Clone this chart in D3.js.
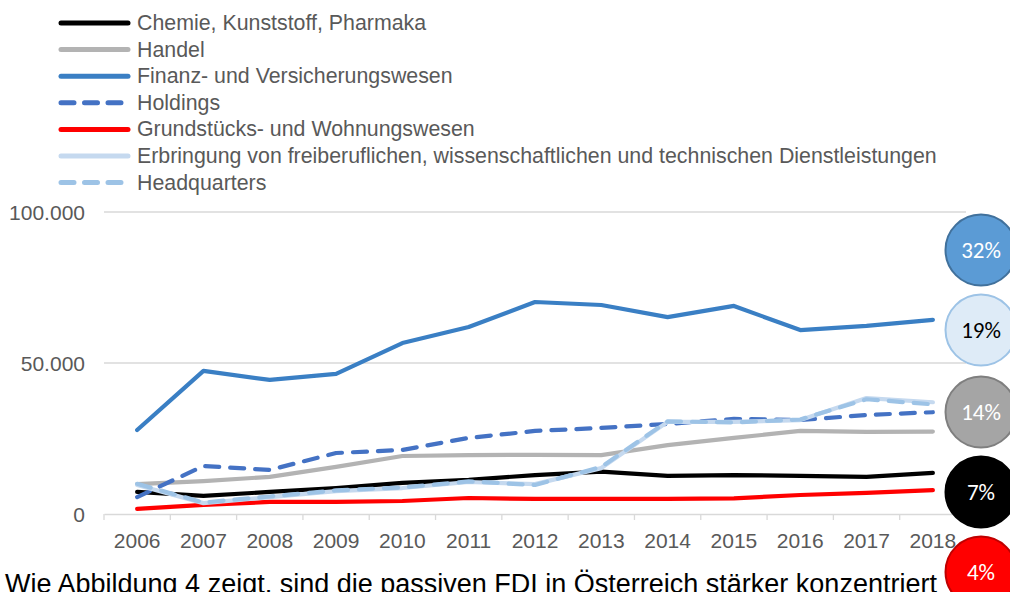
<!DOCTYPE html>
<html>
<head>
  <style>
    body { margin: 0; background: white; }
    text { font-family: "Liberation Sans", Arial, sans-serif; }
  </style>
</head>
<body>
  <script src="https://d3js.org/d3.v7.min.js"></script>
  <script>
    var width = 1010, height = 592;

    var years = ["2006","2007","2008","2009","2010","2011","2012","2013","2014","2015","2016","2017","2018"];
    var chemie = [7300, 6000, 7300, 8600, 10300, 11300, 12900, 14000, 12600, 12900, 12600, 12300, 13600];
    var handel = [9900, 10900, 12300, 15600, 19200, 19500, 19600, 19500, 22800, 25200, 27500, 27200, 27300];
    var finanz = [27800, 47400, 44400, 46400, 56600, 61900, 70200, 69200, 65200, 68900, 60900, 62300, 64300];
    var holdings = [5600, 15900, 14600, 20200, 21200, 25200, 27500, 28500, 29800, 31500, 31100, 32800, 33700];
    var grund = [1700, 3000, 4000, 4000, 4300, 5300, 5000, 5000, 5000, 5200, 6300, 7000, 7900];
    var erbringung = [9600, 3600, 5600, 7600, 8600, 10600, 9900, 15200, 30500, 30500, 31100, 38400, 37000];
    var headquarters = [10000, 3800, 5800, 7800, 8800, 10800, 9600, 15600, 30700, 30300, 31300, 38000, 36300];
    var yTicks = [0, 50000, 100000];
    var shares = ["32%", "19%", "14%", "7%", "4%"];

    var series = [
      {name: "Chemie, Kunststoff, Pharmaka", values: chemie, color: "#000000", dash: null},
      {name: "Handel", values: handel, color: "#b3b3b3", dash: null},
      {name: "Finanz- und Versicherungswesen", values: finanz, color: "#3a7fc4", dash: null},
      {name: "Holdings", values: holdings, color: "#4472c4", dash: "14,11"},
      {name: "Grundstücks- und Wohnungswesen", values: grund, color: "#ff0000", dash: null},
      {name: "Erbringung von freiberuflichen, wissenschaftlichen und technischen Dienstleistungen", values: erbringung, color: "#c5d9ef", dash: null},
      {name: "Headquarters", values: headquarters, color: "#9dc3e6", dash: "14,11"}
    ];

    var svg = d3.select("body").append("svg")
      .attr("width", width).attr("height", height);

    var x = d3.scaleBand().domain(years).range([104, 966]);
    var y = d3.scaleLinear().domain([0, 100000]).range([514, 212]);
    var fmt = d3.formatLocale({decimal: ",", thousands: ".", grouping: [3], currency: ["", ""]}).format(",");

    // gridlines
    svg.selectAll(".grid").data(yTicks.filter(d => d > 0)).enter().append("line")
      .attr("x1", 104).attr("x2", 966)
      .attr("y1", d => y(d)).attr("y2", d => y(d))
      .attr("stroke", "#d9d9d9").attr("stroke-width", 1.3);

    // y labels
    svg.selectAll(".ylab").data(yTicks).enter().append("text")
      .attr("x", 85).attr("y", d => y(d) + 8)
      .attr("text-anchor", "end")
      .attr("font-size", 21).attr("fill", "#595959")
      .text(d => fmt(d));

    // x axis
    var xAxis = svg.append("g").attr("transform", "translate(0,514)")
      .call(d3.axisBottom(x).tickSize(0).tickPadding(19));
    xAxis.select(".domain").attr("stroke", "#d9d9d9").attr("stroke-width", 1.3);
    xAxis.selectAll("text").attr("font-size", 21).attr("fill", "#595959")
      .attr("font-family", "Liberation Sans, Arial, sans-serif");
    xAxis.selectAll(".sep").data(years.concat(["end"])).enter().append("line")
      .attr("x1", (d, i) => 104 + i * x.bandwidth()).attr("x2", (d, i) => 104 + i * x.bandwidth())
      .attr("y1", 0).attr("y2", 6)
      .attr("stroke", "#d9d9d9").attr("stroke-width", 1.3);

    var line = d3.line()
      .x((d, i) => x(years[i]) + x.bandwidth() / 2)
      .y(d => y(d));

    svg.selectAll(".series").data(series).enter().append("path")
      .attr("d", d => line(d.values))
      .attr("fill", "none")
      .attr("stroke", d => d.color)
      .attr("stroke-width", 4.2)
      .attr("stroke-linejoin", "round")
      .attr("stroke-linecap", "round")
      .attr("stroke-dasharray", d => d.dash);

    // legend
    var legend = svg.selectAll(".legend").data(series).enter().append("g")
      .attr("transform", (d, i) => "translate(0," + (23 + i * 26.6) + ")");
    legend.append("line")
      .attr("x1", 61).attr("x2", 128)
      .attr("stroke", d => d.color).attr("stroke-width", 5)
      .attr("stroke-linecap", "round")
      .attr("stroke-dasharray", d => d.dash ? "13,10.5" : null);
    legend.append("text")
      .attr("x", 137).attr("y", 7)
      .attr("font-size", 21.35).attr("fill", "#595959")
      .text(d => d.name);

    // bottom text
    svg.append("text")
      .attr("x", 5).attr("y", 593)
      .attr("font-size", 27).attr("fill", "#000")
      .text("Wie Abbildung 4 zeigt, sind die passiven FDI in Österreich stärker konzentriert");

    // share bubbles
    var bubbleY = [250, 330, 412, 492, 572];
    var bubbleFill = ["#5b9bd5", "#deebf7", "#a5a5a5", "#000000", "#ff0000"];
    var bubbleStroke = ["#41719c", "#9dc3e6", "#7f7f7f", "#000000", "#c00000"];
    var bubbleText = ["#ffffff", "#000000", "#ffffff", "#ffffff", "#ffffff"];
    var bubbles = svg.selectAll(".bubble").data(shares).enter().append("g")
      .attr("transform", (d, i) => "translate(981," + bubbleY[i] + ")");
    bubbles.append("circle")
      .attr("r", 35.5)
      .attr("fill", (d, i) => bubbleFill[i])
      .attr("stroke", (d, i) => bubbleStroke[i])
      .attr("stroke-width", 2);
    bubbles.append("text")
      .attr("text-anchor", "middle").attr("y", 8)
      .attr("font-size", 23)
      .style("font-family", "Carlito, Lato, sans-serif")
      .attr("fill", (d, i) => bubbleText[i])
      .text(d => d);
  </script>
</body>
</html>
